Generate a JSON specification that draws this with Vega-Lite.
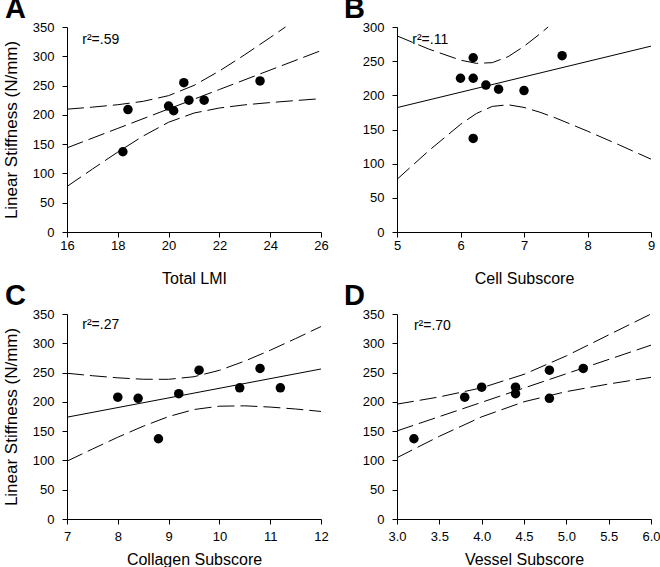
{
  "$schema": "https://vega.github.io/schema/vega-lite/v6.json",
  "padding": {"left": 2, "top": -5, "right": 5, "bottom": 0},
  "background": "white",
  "datasets": {
    "pts": [
      {"p": "A", "x": 18.2, "y": 137}, {"p": "A", "x": 18.4, "y": 209}, {"p": "A", "x": 20.0, "y": 215}, {"p": "A", "x": 20.2, "y": 207},
      {"p": "A", "x": 20.6, "y": 255}, {"p": "A", "x": 20.8, "y": 225}, {"p": "A", "x": 21.4, "y": 225}, {"p": "A", "x": 23.6, "y": 258},
      {"p": "B", "x": 6.2, "y": 137}, {"p": "B", "x": 6.6, "y": 209}, {"p": "B", "x": 6.4, "y": 215}, {"p": "B", "x": 7.0, "y": 207},
      {"p": "B", "x": 6.2, "y": 255}, {"p": "B", "x": 6.0, "y": 225}, {"p": "B", "x": 6.2, "y": 225}, {"p": "B", "x": 7.6, "y": 258},
      {"p": "C", "x": 8.8, "y": 137}, {"p": "C", "x": 8.0, "y": 208}, {"p": "C", "x": 9.2, "y": 214}, {"p": "C", "x": 8.4, "y": 206},
      {"p": "C", "x": 9.6, "y": 254}, {"p": "C", "x": 10.4, "y": 224}, {"p": "C", "x": 11.2, "y": 224}, {"p": "C", "x": 10.8, "y": 257},
      {"p": "D", "x": 3.2, "y": 137}, {"p": "D", "x": 3.8, "y": 208}, {"p": "D", "x": 4.4, "y": 214}, {"p": "D", "x": 4.8, "y": 206},
      {"p": "D", "x": 4.8, "y": 254}, {"p": "D", "x": 4.0, "y": 225}, {"p": "D", "x": 4.4, "y": 225}, {"p": "D", "x": 5.2, "y": 257}
    ],
    "fits": [
      {"p": "A", "s": "fit", "x": 16, "y": 143.7}, {"p": "A", "s": "fit", "x": 18, "y": 176.9}, {"p": "A", "s": "fit", "x": 20, "y": 210.1},
      {"p": "A", "s": "fit", "x": 22, "y": 243.3}, {"p": "A", "s": "fit", "x": 24, "y": 276.5}, {"p": "A", "s": "fit", "x": 26, "y": 309.7},
      {"p": "A", "s": "upper", "x": 16, "y": 209.7}, {"p": "A", "s": "upper", "x": 17, "y": 213.2}, {"p": "A", "s": "upper", "x": 18, "y": 217.3},
      {"p": "A", "s": "upper", "x": 19, "y": 223.1}, {"p": "A", "s": "upper", "x": 20, "y": 232.8}, {"p": "A", "s": "upper", "x": 21, "y": 250.3},
      {"p": "A", "s": "upper", "x": 22, "y": 274.9}, {"p": "A", "s": "upper", "x": 23, "y": 302.7}, {"p": "A", "s": "upper", "x": 24, "y": 332.0},
      {"p": "A", "s": "upper", "x": 24.6, "y": 350},
      {"p": "A", "s": "lower", "x": 16, "y": 77.7}, {"p": "A", "s": "lower", "x": 17, "y": 107.4}, {"p": "A", "s": "lower", "x": 18, "y": 136.5},
      {"p": "A", "s": "lower", "x": 19, "y": 163.9}, {"p": "A", "s": "lower", "x": 20, "y": 187.4}, {"p": "A", "s": "lower", "x": 21, "y": 203.1},
      {"p": "A", "s": "lower", "x": 22, "y": 211.7}, {"p": "A", "s": "lower", "x": 23, "y": 217.1}, {"p": "A", "s": "lower", "x": 24, "y": 221.0},
      {"p": "A", "s": "lower", "x": 25, "y": 224.4}, {"p": "A", "s": "lower", "x": 26, "y": 227.7},

      {"p": "B", "s": "fit", "x": 5, "y": 182}, {"p": "B", "s": "fit", "x": 9, "y": 272},
      {"p": "B", "s": "upper", "x": 5, "y": 287}, {"p": "B", "s": "upper", "x": 5.5, "y": 267.7}, {"p": "B", "s": "upper", "x": 6, "y": 251.5},
      {"p": "B", "s": "upper", "x": 6.25, "y": 246.8}, {"p": "B", "s": "upper", "x": 6.5, "y": 247.8}, {"p": "B", "s": "upper", "x": 6.75, "y": 256.6},
      {"p": "B", "s": "upper", "x": 7, "y": 271.7}, {"p": "B", "s": "upper", "x": 7.25, "y": 289.9}, {"p": "B", "s": "upper", "x": 7.38, "y": 300},
      {"p": "B", "s": "lower", "x": 5, "y": 77}, {"p": "B", "s": "lower", "x": 5.5, "y": 118.9}, {"p": "B", "s": "lower", "x": 6, "y": 157.5},
      {"p": "B", "s": "lower", "x": 6.25, "y": 173.4}, {"p": "B", "s": "lower", "x": 6.5, "y": 183.8}, {"p": "B", "s": "lower", "x": 6.75, "y": 186.2},
      {"p": "B", "s": "lower", "x": 7, "y": 182.3}, {"p": "B", "s": "lower", "x": 7.25, "y": 175.3}, {"p": "B", "s": "lower", "x": 7.5, "y": 166.8},
      {"p": "B", "s": "lower", "x": 8, "y": 147.6}, {"p": "B", "s": "lower", "x": 8.5, "y": 127.4}, {"p": "B", "s": "lower", "x": 9, "y": 106.6},

      {"p": "C", "s": "fit", "x": 7, "y": 173.8}, {"p": "C", "s": "fit", "x": 12, "y": 256.1},
      {"p": "C", "s": "upper", "x": 7, "y": 248.8}, {"p": "C", "s": "upper", "x": 7.5, "y": 244.6}, {"p": "C", "s": "upper", "x": 8, "y": 241.0},
      {"p": "C", "s": "upper", "x": 8.5, "y": 238.6}, {"p": "C", "s": "upper", "x": 9, "y": 238.5}, {"p": "C", "s": "upper", "x": 9.5, "y": 242.9},
      {"p": "C", "s": "upper", "x": 10, "y": 253.8}, {"p": "C", "s": "upper", "x": 10.5, "y": 269.6}, {"p": "C", "s": "upper", "x": 11, "y": 288.1},
      {"p": "C", "s": "upper", "x": 11.5, "y": 308.0}, {"p": "C", "s": "upper", "x": 12, "y": 328.6},
      {"p": "C", "s": "lower", "x": 7, "y": 98.8}, {"p": "C", "s": "lower", "x": 7.5, "y": 119.4}, {"p": "C", "s": "lower", "x": 8, "y": 139.6},
      {"p": "C", "s": "lower", "x": 8.5, "y": 158.4}, {"p": "C", "s": "lower", "x": 9, "y": 174.9}, {"p": "C", "s": "lower", "x": 9.5, "y": 186.9},
      {"p": "C", "s": "lower", "x": 10, "y": 192.6}, {"p": "C", "s": "lower", "x": 10.5, "y": 193.2}, {"p": "C", "s": "lower", "x": 11, "y": 191.1},
      {"p": "C", "s": "lower", "x": 11.5, "y": 187.8}, {"p": "C", "s": "lower", "x": 12, "y": 183.6},

      {"p": "D", "s": "fit", "x": 3, "y": 150.4}, {"p": "D", "s": "fit", "x": 6, "y": 296.8},
      {"p": "D", "s": "upper", "x": 3, "y": 196.1}, {"p": "D", "s": "upper", "x": 3.5, "y": 208.4}, {"p": "D", "s": "upper", "x": 4, "y": 224.0},
      {"p": "D", "s": "upper", "x": 4.5, "y": 247.0}, {"p": "D", "s": "upper", "x": 5, "y": 278.5}, {"p": "D", "s": "upper", "x": 5.5, "y": 314.3},
      {"p": "D", "s": "upper", "x": 6, "y": 350},
      {"p": "D", "s": "lower", "x": 3, "y": 104.7}, {"p": "D", "s": "lower", "x": 3.5, "y": 141.2}, {"p": "D", "s": "lower", "x": 4, "y": 174.4},
      {"p": "D", "s": "lower", "x": 4.5, "y": 200.2}, {"p": "D", "s": "lower", "x": 5, "y": 217.5}, {"p": "D", "s": "lower", "x": 5.5, "y": 230.5},
      {"p": "D", "s": "lower", "x": 6, "y": 241.8}
    ],
    "notes": [
      {"p": "A", "x": 16.6, "y": 321, "label": "r²=.59"},
      {"p": "B", "x": 5.24, "y": 275, "label": "r²=.11"},
      {"p": "C", "x": 7.3, "y": 323.6, "label": "r²=.27"},
      {"p": "D", "x": 3.2, "y": 322.5, "label": "r²=.70"}
    ]
  },
  "columns": 2,
  "spacing": {"row": 82, "column": 76},
  "bounds": "flush",
  "concat": [
    {
      "width": 254, "height": 205,
      "title": {"text": "A", "anchor": "start", "frame": "group", "dx": -62, "dy": 30, "baseline": "alphabetic"},
      "encoding": {
        "x": {"field": "x", "type": "quantitative", "scale": {"domain": [16, 26]}, "axis": {"title": "Total LMI", "titlePadding": 18, "values": [16, 18, 20, 22, 24, 26]}},
        "y": {"field": "y", "type": "quantitative", "scale": {"domain": [0, 350]}, "axis": {"title": "Linear Stiffness (N/mm)", "values": [0, 50, 100, 150, 200, 250, 300, 350]}}
      },
      "layer": [
        {"data": {"name": "fits"}, "transform": [{"filter": "datum.p === 'A'"}],
         "mark": {"type": "line", "color": "black", "strokeWidth": 1, "strokeDash": [17, 6]},
         "encoding": {"detail": {"field": "s"}}},
        {"data": {"name": "pts"}, "transform": [{"filter": "datum.p === 'A'"}],
         "mark": {"type": "circle", "color": "black", "opacity": 1, "size": 90}},
        {"data": {"name": "notes"}, "transform": [{"filter": "datum.p === 'A'"}],
         "mark": {"type": "text", "align": "left", "baseline": "alphabetic", "fontSize": 14, "color": "black"},
         "encoding": {"text": {"field": "label"}}}
      ]
    },
    {
      "width": 254, "height": 205,
      "title": {"text": "B", "anchor": "start", "frame": "group", "dx": -53, "dy": 30, "baseline": "alphabetic"},
      "encoding": {
        "x": {"field": "x", "type": "quantitative", "scale": {"domain": [5, 9]}, "axis": {"title": "Cell Subscore", "titlePadding": 18, "values": [5, 6, 7, 8, 9]}},
        "y": {"field": "y", "type": "quantitative", "scale": {"domain": [0, 300]}, "axis": {"title": null, "values": [0, 50, 100, 150, 200, 250, 300]}}
      },
      "layer": [
        {"data": {"name": "fits"}, "transform": [{"filter": "datum.p === 'B' && datum.s !== 'fit'"}],
         "mark": {"type": "line", "color": "black", "strokeWidth": 1, "strokeDash": [17, 6]},
         "encoding": {"detail": {"field": "s"}}},
        {"data": {"name": "fits"}, "transform": [{"filter": "datum.p === 'B' && datum.s === 'fit'"}],
         "mark": {"type": "line", "color": "black", "strokeWidth": 1}},
        {"data": {"name": "pts"}, "transform": [{"filter": "datum.p === 'B'"}],
         "mark": {"type": "circle", "color": "black", "opacity": 1, "size": 90}},
        {"data": {"name": "notes"}, "transform": [{"filter": "datum.p === 'B'"}],
         "mark": {"type": "text", "align": "left", "baseline": "alphabetic", "fontSize": 14, "color": "black"},
         "encoding": {"text": {"field": "label"}}}
      ]
    },
    {
      "width": 254, "height": 205,
      "title": {"text": "C", "anchor": "start", "frame": "group", "dx": -62, "dy": 30, "baseline": "alphabetic"},
      "encoding": {
        "x": {"field": "x", "type": "quantitative", "scale": {"domain": [7, 12]}, "axis": {"title": "Collagen Subscore", "titlePadding": 8, "labelPadding": 6, "values": [7, 8, 9, 10, 11, 12]}},
        "y": {"field": "y", "type": "quantitative", "scale": {"domain": [0, 350]}, "axis": {"title": "Linear Stiffness (N/mm)", "values": [0, 50, 100, 150, 200, 250, 300, 350]}}
      },
      "layer": [
        {"data": {"name": "fits"}, "transform": [{"filter": "datum.p === 'C' && datum.s !== 'fit'"}],
         "mark": {"type": "line", "color": "black", "strokeWidth": 1, "strokeDash": [17, 6]},
         "encoding": {"detail": {"field": "s"}}},
        {"data": {"name": "fits"}, "transform": [{"filter": "datum.p === 'C' && datum.s === 'fit'"}],
         "mark": {"type": "line", "color": "black", "strokeWidth": 1}},
        {"data": {"name": "pts"}, "transform": [{"filter": "datum.p === 'C'"}],
         "mark": {"type": "circle", "color": "black", "opacity": 1, "size": 90}},
        {"data": {"name": "notes"}, "transform": [{"filter": "datum.p === 'C'"}],
         "mark": {"type": "text", "align": "left", "baseline": "alphabetic", "fontSize": 14, "color": "black"},
         "encoding": {"text": {"field": "label"}}}
      ]
    },
    {
      "width": 254, "height": 205,
      "title": {"text": "D", "anchor": "start", "frame": "group", "dx": -53, "dy": 30, "baseline": "alphabetic"},
      "encoding": {
        "x": {"field": "x", "type": "quantitative", "scale": {"domain": [3, 6]}, "axis": {"title": "Vessel Subscore", "titlePadding": 8, "labelPadding": 6, "format": ".1f", "values": [3, 3.5, 4, 4.5, 5, 5.5, 6]}},
        "y": {"field": "y", "type": "quantitative", "scale": {"domain": [0, 350]}, "axis": {"title": null, "values": [0, 50, 100, 150, 200, 250, 300, 350]}}
      },
      "layer": [
        {"data": {"name": "fits"}, "transform": [{"filter": "datum.p === 'D'"}],
         "mark": {"type": "line", "color": "black", "strokeWidth": 1, "strokeDash": [17, 6]},
         "encoding": {"detail": {"field": "s"}}},
        {"data": {"name": "pts"}, "transform": [{"filter": "datum.p === 'D'"}],
         "mark": {"type": "circle", "color": "black", "opacity": 1, "size": 90}},
        {"data": {"name": "notes"}, "transform": [{"filter": "datum.p === 'D'"}],
         "mark": {"type": "text", "align": "left", "baseline": "alphabetic", "fontSize": 14, "color": "black"},
         "encoding": {"text": {"field": "label"}}}
      ]
    }
  ],
  "config": {
    "font": "Liberation Sans",
    "view": {"stroke": null},
    "axis": {
      "grid": false, "domainColor": "#000", "tickColor": "#000", "labelColor": "#000", "titleColor": "#000",
      "labelFont": "Liberation Sans", "titleFont": "Liberation Sans", "labelFontSize": 13, "titleFontSize": 16,
      "titleFontWeight": "normal", "tickSize": 5, "labelPadding": 2, "labelFlush": false, "labelOverlap": false
    },
    "axisY": {"titleFontSize": 17, "labelPadding": 8, "titlePadding": 12},
    "axisX": {"titlePadding": 12},
    "title": {"fontSize": 29, "fontWeight": "bold", "color": "#000", "font": "Liberation Sans"}
  }
}
